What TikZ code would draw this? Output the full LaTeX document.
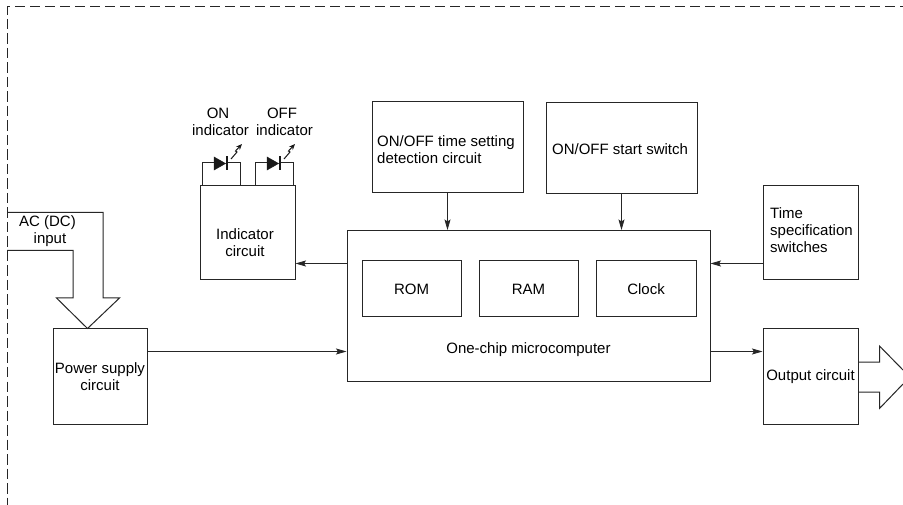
\documentclass[tikz,border=0pt]{standalone}
\usepackage{fontspec}
\setmainfont{Liberation Sans}
\usetikzlibrary{arrows.meta}
\tikzset{
 blk/.style={draw=black!85,line width=1pt,inner sep=0pt,align=center,font=\fontsize{15}{17}\selectfont},
 lbl/.style={inner sep=0pt,align=center,font=\fontsize{15}{17}\selectfont},
 conn/.style={line width=0.8pt,draw=black!85,-{Stealth[length=10.5pt,width=6pt,inset=2pt]}},
 wire/.style={line width=1pt,draw=black!85},
 led/.style={fill=black!90,draw=black!90,line width=0.5pt},
 framedash/.style={line width=1pt,black!85},
}
\begin{document}
\begin{tikzpicture}[x=1pt,y=-1pt]
\useasboundingbox (0,0) rectangle (903,505);
\fill[white] (0,0) rectangle (903,505);
% dashed frame
\coordinate (frameTR) at (903,7);
\coordinate (frameTL) at (7,7);
\coordinate (frameBL) at (7,505);
\draw[framedash,dash pattern=on 10pt off 5pt,dash phase=7pt] (frameTL) -- (frameTR);
\draw[framedash,dash pattern=on 10.5pt off 4pt,dash phase=2.5pt] (frameTL) -- (frameBL);
% blocks
\node[blk,minimum width=94pt,minimum height=95pt] (power) at (100,376.5) {Power supply\\circuit};
\node[blk,minimum width=363pt,minimum height=151pt] (main) at (528.5,306) {};
\node[lbl] (mainlabel) at (528.5,350) {One-chip microcomputer};
\node[blk,minimum width=99pt,minimum height=56pt] (rom) at (411.5,289) {ROM};
\node[blk,minimum width=99pt,minimum height=56pt] (ram) at (528.5,289) {RAM};
\node[blk,minimum width=100pt,minimum height=56pt] (clock) at (646,289) {Clock};
\node[blk,minimum width=95pt,minimum height=94pt] (ind) at (247.5,233) {};
\node[lbl] (indlabel) at (245,242.5) {Indicator\\circuit};
\node[blk,minimum width=151pt,minimum height=90.5pt] (tset) at (447.5,146.8) {};
\node[lbl,align=left] (tsetlabel) at (446,150) {ON/OFF time setting\\detection circuit};
\node[blk,minimum width=151pt,minimum height=91pt] (start) at (621.5,148.3) {};
\node[lbl] (startlabel) at (620,149) {ON/OFF start switch};
\node[blk,minimum width=95pt,minimum height=93.5pt] (tspec) at (810.5,232.7) {};
\node[lbl,align=left,anchor=west] (tspeclabel) at (770,230) {Time\\specification\\switches};
\node[blk,minimum width=95pt,minimum height=95pt] (out) at (810.5,376.5) {Output circuit};
% labels
\node[lbl] (onl) at (220.5,121.5) {ON\hspace*{5pt}\\indicator};
\node[lbl] (offl) at (284.5,121.5) {OFF\hspace*{5pt}\\indicator};
\node[lbl] (acl) at (50,231.5) {AC (DC)\hspace*{5pt}\\input};
% connectors
\coordinate (upperY) at (0,263.5);
\coordinate (lowerY) at (0,351.5);
\draw[conn] (tset.south) -- (tset.south |- main.north);
\draw[conn] (start.south) -- (start.south |- main.north);
\draw[conn] (tspec.west |- upperY) -- (main.east |- upperY);
\draw[conn] (main.west |- upperY) -- (ind.east |- upperY);
\draw[conn] (power.east |- lowerY) -- (main.west |- lowerY);
\draw[conn] (main.east |- lowerY) -- (out.west |- lowerY);
% AC input hollow arrow
\coordinate (acTop) at (7,212.5);
\coordinate (acBot) at (7,250.5);
\draw[wire,line join=miter] (acTop) -- (103,212.5) -- (103,298) -- (119.5,298) -- (power.north -| 87.5,0) -- (56.5,298) -- (73,298) -- (73,250.5) -- (acBot);
% Output hollow arrow
\draw[wire] (out.east |- 0,362) -- (879.5,362) -- (879.5,346) -- (903,370);
\draw[wire] (out.east |- 0,392) -- (879.5,392) -- (879.5,408.5) -- (903,384);
% LEDs
\foreach \n/\x in {onled/202,offled/255}{
 \draw[wire] (\x,186) -- (\x,163) -- (\x+38,163) -- (\x+38,186);
 \fill[white] (\x+12,155) rectangle (\x+26,172);
 \draw[led] (\x+12,157) -- (\x+12,170) -- (\x+23.5,163.5) -- cycle;
 \draw[line width=1.5pt,black!90] (\x+25,156.5) -- (\x+25,170.5);
 \draw[line width=1pt,black!90,-{Stealth[length=6pt,width=5pt]}] (\x+29,159) -- (\x+35,152) -- (\x+33.5,151) -- (\x+40,144);
}
\end{tikzpicture}
\end{document}
